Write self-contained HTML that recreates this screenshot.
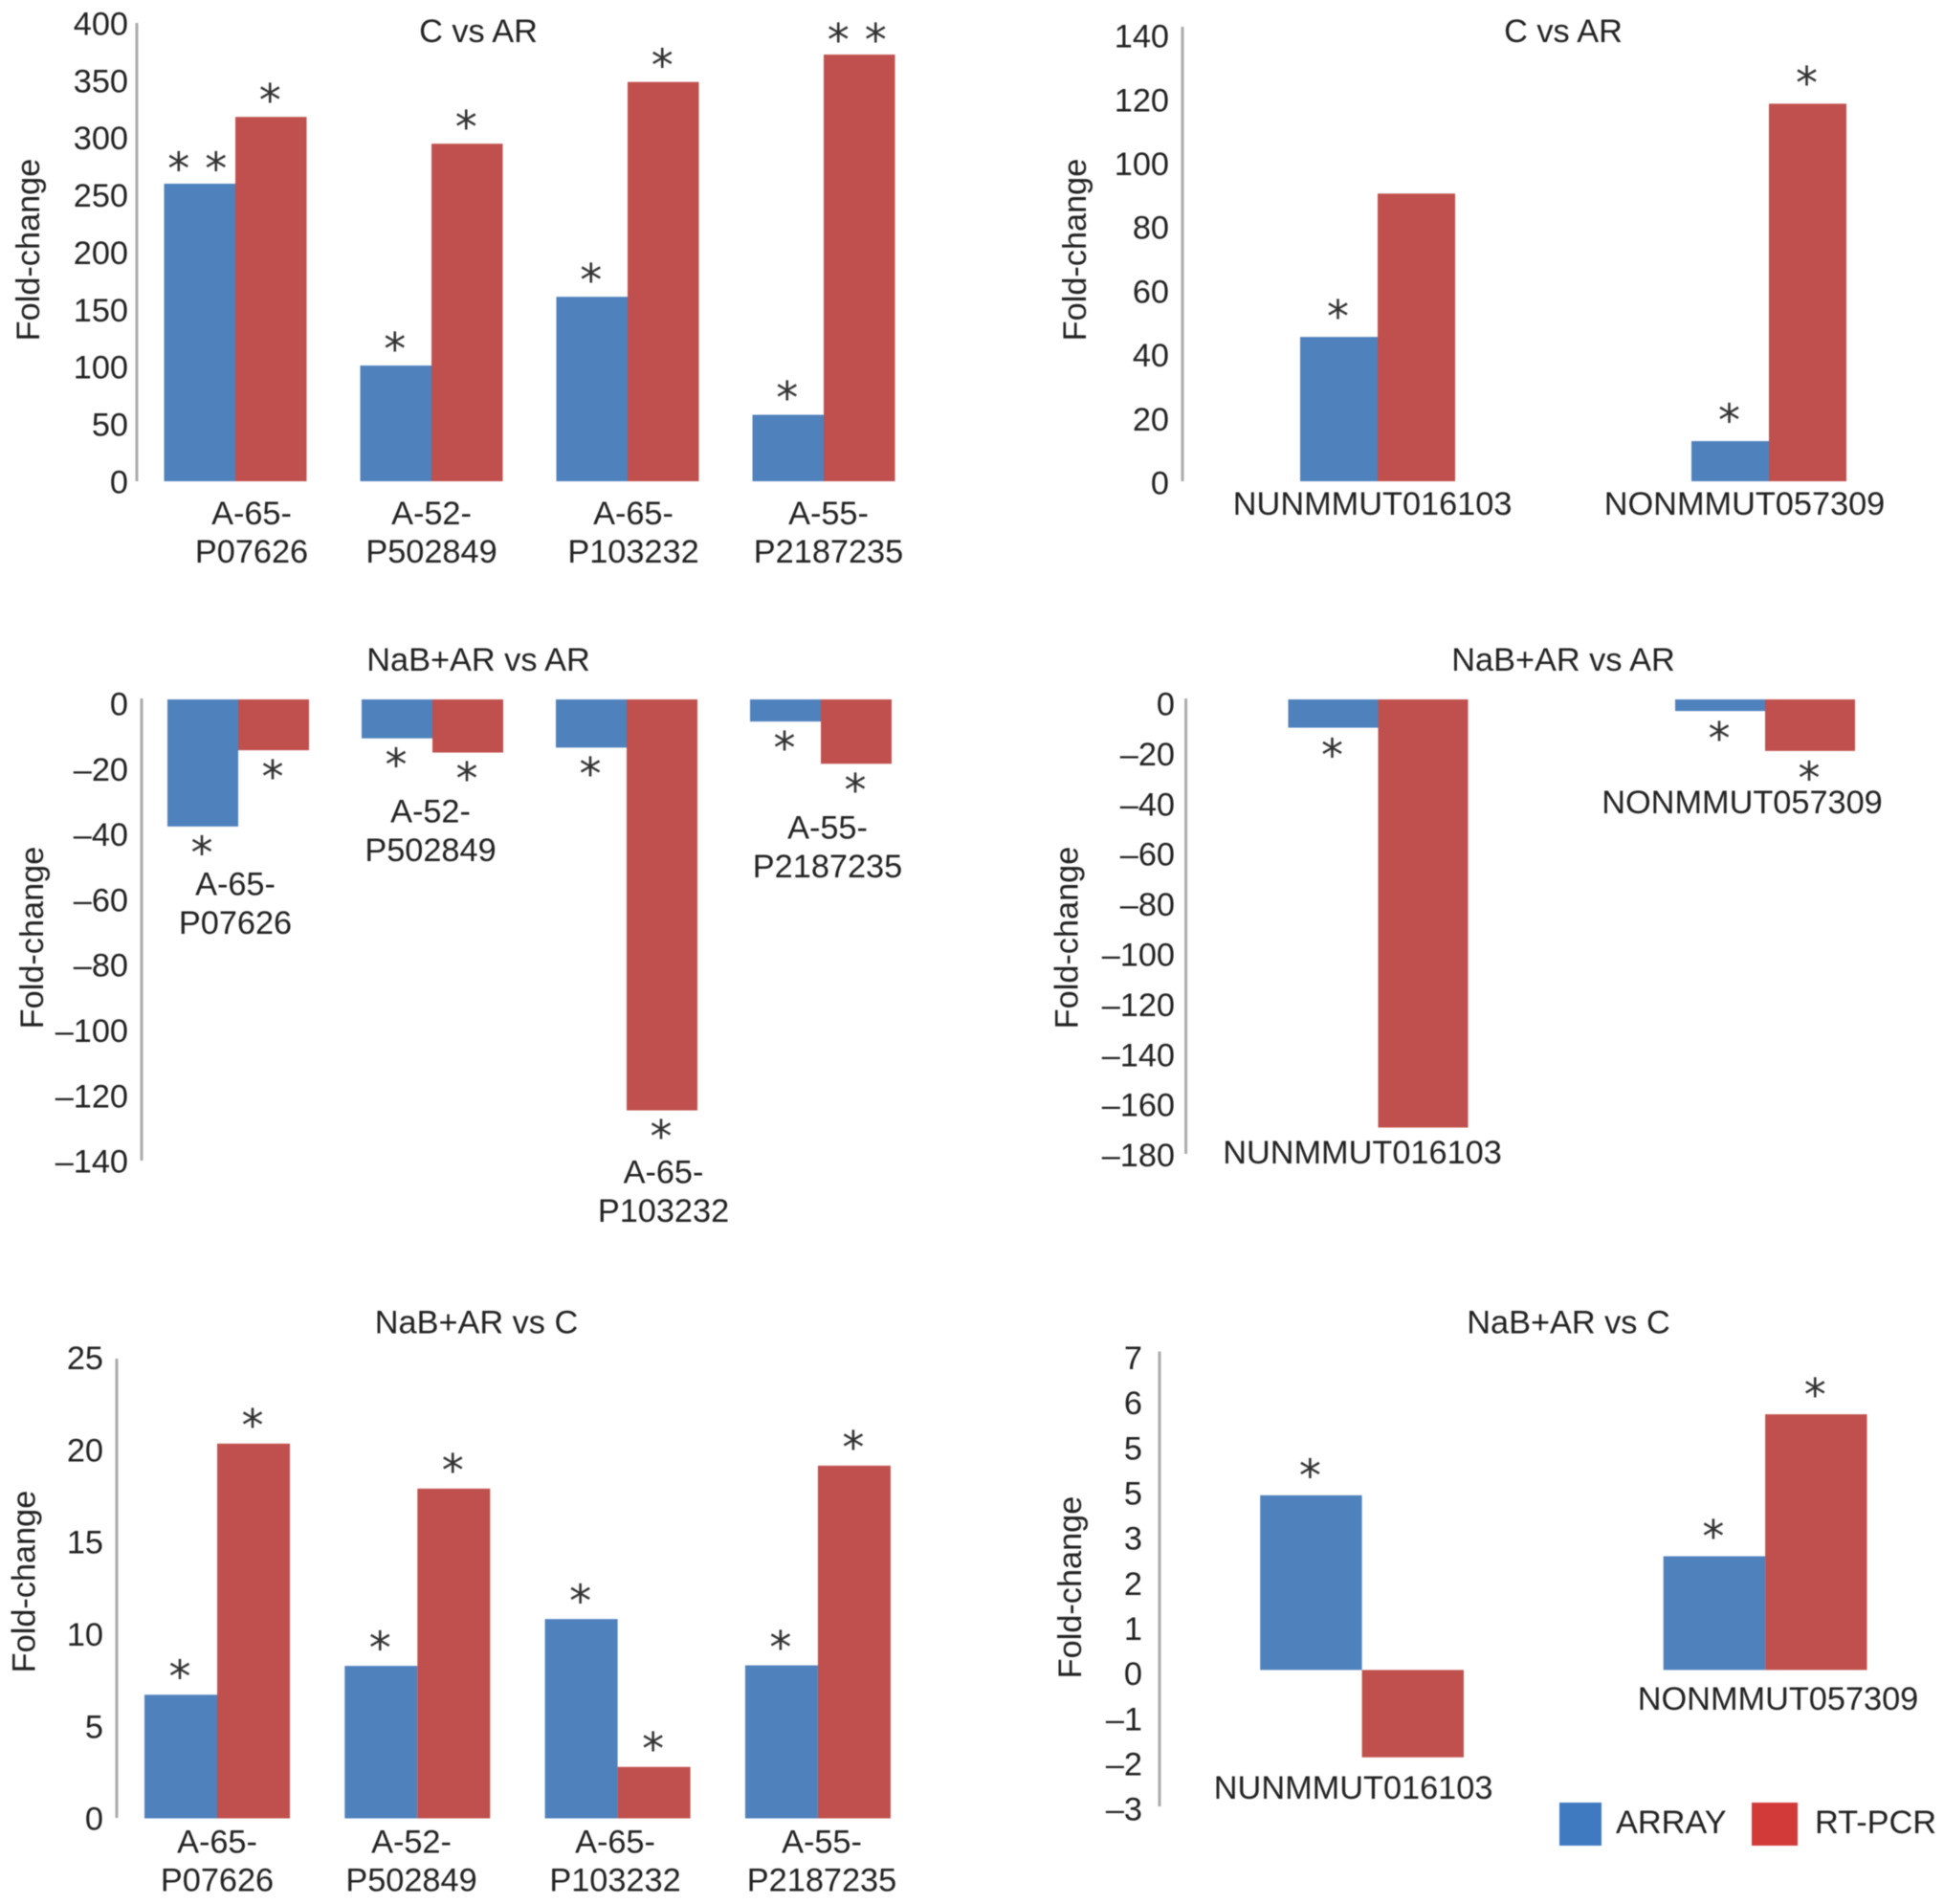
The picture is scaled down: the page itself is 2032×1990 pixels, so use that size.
<!DOCTYPE html>
<html lang="en">
<head>
<meta charset="utf-8">
<title>Fold-change bar charts</title>
<style>
html,body{margin:0;padding:0;background:#fff;width:2032px;height:1990px;overflow:hidden}
svg{display:block;filter:blur(0.5px)}
text{font-family:"Liberation Sans",Arial,sans-serif;font-size:34.3px;fill:#222}
.star{font-family:"DejaVu Sans",sans-serif;font-size:46px;fill:#333}
</style>
</head>
<body>
<svg id="figure" xmlns="http://www.w3.org/2000/svg" width="2032" height="1990" viewBox="0 0 2032 1990">
  <rect x="0" y="0" width="2032" height="1990" fill="#fff"/>
  <g>
    <rect x="1630" y="1884" width="44" height="45" fill="#3f79c0"/>
    <text x="1689" y="1916">ARRAY</text>
    <rect x="1831" y="1884" width="48" height="45" fill="#d23a3a"/>
    <text x="1897" y="1916">RT-PCR</text>
  </g>
</svg>
<script>
// ---- chart data ----
const longLabels = [['A-65-','P07626'],['A-52-','P502849'],['A-65-','P103232'],['A-55-','P2187235']];
const shortLabels = [['NUNMMUT016103'],['NONMMUT057309']];

const ticksA = [400,350,300,250,200,150,100,50,0];
const tickLabelsA = ['400','350','300','250','200','150','100','50','0'];
const arrayA = [259.7,101,161,58];
const pcrA = [318,294.6,348.5,372.4];
const arrayStarsA = [2,1,1,1];
const pcrStarsA = [1,1,1,2];

const ticksB = [140,120,100,80,60,40,20,0];
const tickLabelsB = ['140','120','100','80','60','40','20','0'];
const arrayB = [45.3,12.6];
const pcrB = [90.3,118.5];
const arrayStarsB = [1,1];
const pcrStarsB = [0,1];

const ticksC = [0,-20,-40,-60,-80,-100,-120,-140];
const tickLabelsC = ['0','–20','–40','–60','–80','–100','–120','–140'];
const arrayC = [-38.5,-11.8,-14.6,-6.7];
const pcrC = [-15.4,-16.1,-124.5,-19.5];
const arrayStarsC = [1,1,1,1];
const pcrStarsC = [1,1,1,1];

const ticksD = [0,-20,-40,-60,-80,-100,-120,-140,-160,-180];
const tickLabelsD = ['0','–20','–40','–60','–80','–100','–120','–140','–160','–180'];
const arrayD = [-11.2,-4.6];
const pcrD = [-169.5,-20.4];
const arrayStarsD = [1,1];
const pcrStarsD = [0,1];

const ticksE = [25,20,15,10,5,0];
const tickLabelsE = ['25','20','15','10','5','0'];
const arrayE = [6.73,8.3,10.85,8.33];
const pcrE = [20.4,17.95,2.8,19.2];
const arrayStarsE = [1,1,1,1];
const pcrStarsE = [1,1,1,1];

const ticksF = [7,6,5,4,3,2,1,0,-1,-2,-3];
const tickLabelsF = ['7','6','5','5','3','2','1','0','–1','–2','–3'];
const arrayF = [3.84,2.5];
const pcrF = [-1.92,5.62];
const arrayStarsF = [1,1];
const pcrStarsF = [0,1];

// ---- drawing ----
const NS = 'http://www.w3.org/2000/svg';
const root = document.getElementById('figure');
const BLUE = '#4f81bd';
const RED = '#c0504d';

function makeText(parent, x, y, str, anchor) {
  const t = document.createElementNS(NS, 'text');
  t.setAttribute('x', x);
  t.setAttribute('y', y);
  t.setAttribute('text-anchor', anchor);
  t.textContent = str;
  parent.appendChild(t);
  return t;
}

function drawPanel(id, p) {
  const g = document.createElementNS(NS, 'g');
  
  
  root.appendChild(g);

  const yScale = v => p.zeroY - v * p.unit;
  const xScale = i => p.firstCenter + i * p.step;
  const tickScale = v => p.zeroY + p.tickShift - v * p.tickUnit;

  const title = makeText(g, p.titleX, p.titleY + 12, p.title, 'middle');
  
  

  const yTitle = makeText(g, 0, 0, 'Fold-change', 'middle');
  yTitle.setAttribute('transform', 'translate(' + (p.foldX + 12) + ',' + p.foldY + ') rotate(-90)');
  
  

  const axis = document.createElementNS(NS, 'line');
  axis.setAttribute('x1', p.axisX);
  axis.setAttribute('x2', p.axisX);
  axis.setAttribute('y1', p.axisTop);
  axis.setAttribute('y2', p.axisBottom);
  axis.setAttribute('stroke', '#aaaaaa');
  axis.setAttribute('stroke-width', '3');
  
  
  g.appendChild(axis);

  p.ticks.forEach((v, i) => {
    const tick = makeText(g, p.tickRight, tickScale(v) + 12, p.tickLabels[i], 'end');
    
    
  });

  function drawSeries(values, stars, offset, color, name) {
    values.forEach((v, i) => {
      const left = xScale(i) + offset * p.barWidth;
      const top = Math.min(yScale(v), yScale(0));
      const bottom = Math.max(yScale(v), yScale(0));
      const bar = document.createElementNS(NS, 'rect');
      bar.setAttribute('x', left);
      bar.setAttribute('y', top);
      bar.setAttribute('width', p.barWidth);
      bar.setAttribute('height', bottom - top);
      bar.setAttribute('fill', color);
      
      
      g.appendChild(bar);

      const cx = left + p.barWidth / 2 - 1;
      const count = stars[i];
      for (let k = 0; k < count; k++) {
        const dx = count === 2 ? (k === 0 ? -21 : 18) : 0;
        const gap = count === 2 ? p.starGap - 2 : p.starGap;
        const cy = v >= 0 ? yScale(v) - gap : yScale(v) + gap;
        const star = makeText(g, cx + dx, cy + 20.7, '*', 'middle');
        star.setAttribute('class', 'star');
        
        
      }
    });
  }
  drawSeries(p.array, p.arrayStars, -1, BLUE, 'array');
  drawSeries(p.pcr, p.pcrStars, 0, RED, 'rt-pcr');

  p.labels.forEach((lines, i) => {
    lines.forEach((line, j) => {
      const lab = makeText(g, p.labelX[i], p.labelY[i] + 12 + j * p.lineGap, line, 'middle');
      
      
    });
  });
}

drawPanel('panel-long-c-vs-ar', {
  title:'C vs AR', titleX:500, titleY:32, foldX:29, foldY:261,
  axisX:143, axisTop:24, axisBottom:503, tickRight:134, tickShift:0.4, tickUnit:1.1975,
  zeroY:503, unit:1.1975, firstCenter:246, step:205, barWidth:74.5, starGap:22,
  ticks:ticksA, tickLabels:tickLabelsA, array:arrayA, pcr:pcrA, arrayStars:arrayStarsA, pcrStars:pcrStarsA,
  labels:longLabels, labelX:[263,451,662,866], labelY:[536,536,536,536], lineGap:40
});
drawPanel('panel-nonmmut-c-vs-ar', {
  title:'C vs AR', titleX:1634, titleY:32, foldX:1123, foldY:261,
  axisX:1236, axisTop:28, axisBottom:503, tickRight:1222, tickShift:1.5, tickUnit:3.335,
  zeroY:503, unit:3.33, firstCenter:1440, step:409, barWidth:81, starGap:26,
  ticks:ticksB, tickLabels:tickLabelsB, array:arrayB, pcr:pcrB, arrayStars:arrayStarsB, pcrStars:pcrStarsB,
  labels:shortLabels, labelX:[1434.6,1823.5], labelY:[526,526], lineGap:40
});
drawPanel('panel-long-nab-ar-vs-ar', {
  title:'NaB+AR vs AR', titleX:500, titleY:689, foldX:33, foldY:980,
  axisX:148, axisTop:730, axisBottom:1213, tickRight:134, tickShift:4.5, tickUnit:3.415,
  zeroY:731, unit:3.45, firstCenter:249, step:203, barWidth:74, starGap:23,
  ticks:ticksC, tickLabels:tickLabelsC, array:arrayC, pcr:pcrC, arrayStars:arrayStarsC, pcrStars:pcrStarsC,
  labels:longLabels, labelX:[246,450,693.5,865], labelY:[923.5,847.5,1224.5,864.5], lineGap:40.5
});
drawPanel('panel-nonmmut-nab-ar-vs-ar', {
  title:'NaB+AR vs AR', titleX:1634, titleY:689, foldX:1114.5, foldY:980,
  axisX:1239.6, axisTop:730, axisBottom:1206, tickRight:1228, tickShift:4.5, tickUnit:2.62,
  zeroY:731, unit:2.64, firstCenter:1440.5, step:404.5, barWidth:94, starGap:24,
  ticks:ticksD, tickLabels:tickLabelsD, array:arrayD, pcr:pcrD, arrayStars:arrayStarsD, pcrStars:pcrStarsD,
  labels:shortLabels, labelX:[1424,1821], labelY:[1204,838], lineGap:40
});
drawPanel('panel-long-nab-ar-vs-c', {
  title:'NaB+AR vs C', titleX:498, titleY:1381.7, foldX:24.6, foldY:1653,
  axisX:122, axisTop:1420, axisBottom:1900, tickRight:108, tickShift:0.2, tickUnit:19.27,
  zeroY:1900.5, unit:19.2, firstCenter:227, step:209.3, barWidth:76, starGap:23.5,
  ticks:ticksE, tickLabels:tickLabelsE, array:arrayE, pcr:pcrE, arrayStars:arrayStarsE, pcrStars:pcrStarsE,
  labels:longLabels, labelX:[227,430,643,859], labelY:[1924.5,1924.5,1924.5,1924.5], lineGap:40
});
drawPanel('panel-nonmmut-nab-ar-vs-c', {
  title:'NaB+AR vs C', titleX:1639.5, titleY:1381.7, foldX:1118, foldY:1659,
  axisX:1212, axisTop:1412.5, axisBottom:1888, tickRight:1194, tickShift:3.8, tickUnit:47.16,
  zeroY:1745.4, unit:47.55, firstCenter:1423.6, step:421.5, barWidth:106.4, starGap:25,
  ticks:ticksF, tickLabels:tickLabelsF, array:arrayF, pcr:pcrF, arrayStars:arrayStarsF, pcrStars:pcrStarsF,
  labels:shortLabels, labelX:[1414.6,1858.5], labelY:[1868,1775], lineGap:40
});
</script>
</body>
</html>
